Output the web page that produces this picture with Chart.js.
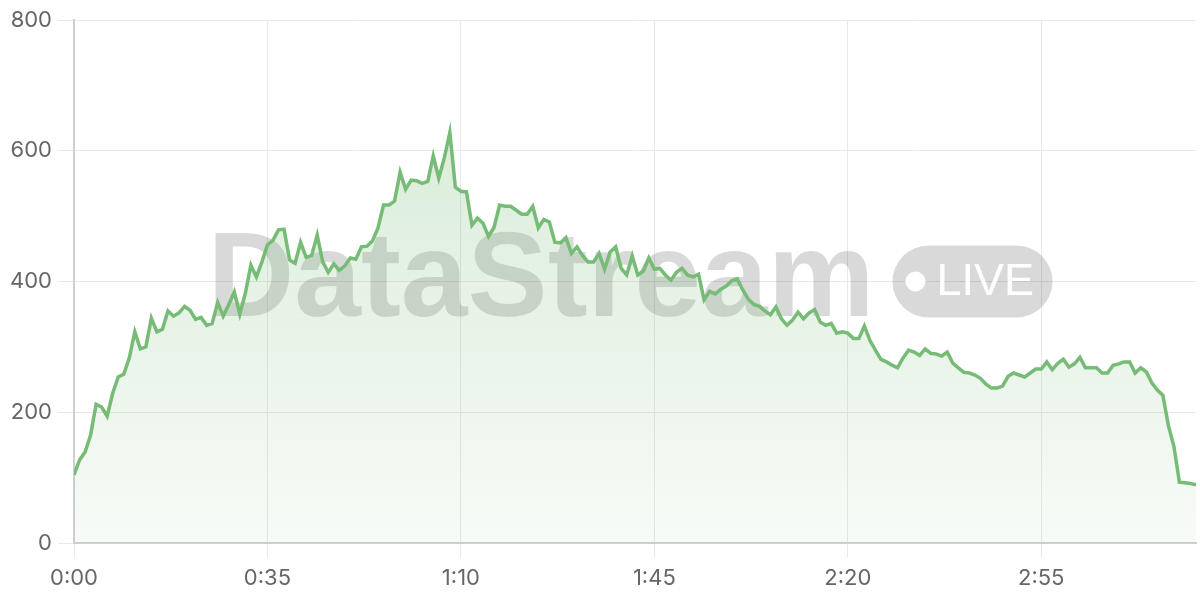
<!DOCTYPE html>
<html>
<head>
<meta charset="utf-8">
<script src="https://cdn.jsdelivr.net/npm/chart.js@4.4.1/dist/chart.umd.min.js"></script>
<style>
  html, body { margin: 0; padding: 0; background: #fff; }
  #wrap { width: 1200px; height: 600px; }
</style>
</head>
<body>
<div id="wrap"><canvas id="chart"></canvas></div>
<script>
// one reading per second, 0:00 .. 3:23
const VALUES = [
  104, 127, 139, 165, 212, 208, 194, 229, 254, 258, 283, 323, 297, 300, 344, 323, 327, 355, 347, 352, 362,
  356, 342, 345, 333, 336, 368, 347, 365, 384, 350, 382, 425, 407, 430, 456, 463, 479, 480, 433, 428, 460, 437, 440,
  471, 430, 414, 427, 417, 424, 436, 434, 453, 454, 462, 482, 517, 517, 523, 567, 541, 555, 554, 550, 553, 592, 558,
  589, 628, 544, 538, 537, 486, 497, 489, 469, 483, 517, 515, 515, 509, 503, 503, 515, 482, 495, 491, 460, 459, 467,
  443, 453, 440, 430, 430, 443, 419, 445, 453, 420, 410, 439, 410, 416, 436, 419, 420, 410, 402, 414, 420, 410,
  407, 411, 372, 385, 381, 388, 393, 401, 404, 387, 373, 365, 362, 355, 349, 361, 343, 333, 341, 353, 343, 352, 357,
  338, 333, 336, 321, 323, 321, 313, 313, 332, 310, 295, 281, 277, 272, 268, 283, 295, 292, 287, 297, 290, 289, 286,
  292, 275, 268, 261, 260, 257, 252, 243, 237, 237, 240, 255, 260, 257, 254, 260, 266, 266, 277, 265, 275, 281,
  269, 274, 284, 268, 268, 268, 260, 260, 272, 274, 277, 277, 260, 268, 262, 245, 234, 226, 180, 148, 93, 92, 91, 89
];
const SECONDS = VALUES.map((_, i) => i);
const X_TICKS = [0, 35, 70, 105, 140, 175];
const Y_TICKS = [0, 200, 400, 600, 800];
const WATERMARK_TEXT = 'DataStream';
const BADGE_TEXT = 'LIVE';

const LINE_COLOR = '#76bb76';
const GRID_COLOR = '#e8e8e8';
const AXIS_COLOR = '#cfcfcf';
const TICK_FONT = { family: "Inter, 'DejaVu Sans', sans-serif", size: 22 };

function fmtTime(v) {
  return Math.floor(v / 60) + ':' + String(v % 60).padStart(2, '0');
}

// big grey "DataStream (•LIVE)" mark centred in the plot, under the line
const watermark = {
  id: 'watermark',
  beforeDatasetsDraw(chart) {
    const { ctx, chartArea: a } = chart;
    ctx.save();
    ctx.font = 'bold 120px "Liberation Sans", Arial, sans-serif';
    const tw = ctx.measureText(WATERMARK_TEXT).width;
    const pillW = 160, pillH = 72, gap = 20;
    const x0 = (a.left + a.right) / 2 - (tw + gap + pillW) / 2;
    const cy = (a.top + a.bottom) / 2;
    ctx.fillStyle = 'rgba(0,0,0,0.15)';
    ctx.textBaseline = 'alphabetic';
    ctx.fillText(WATERMARK_TEXT, x0 - 4, cy + 34);

    const px = x0 + tw + gap - 6, py = cy - 36;
    ctx.beginPath();
    ctx.roundRect(px, py, pillW, pillH, pillH / 2);
    ctx.fill();
    ctx.fillStyle = '#fff';
    ctx.beginPath();
    ctx.arc(px + 23, cy, 10, 0, Math.PI * 2);
    ctx.fill();
    ctx.font = '45px "Liberation Sans", Arial, sans-serif';
    ctx.textBaseline = 'middle';
    ctx.fillText(BADGE_TEXT, px + 44, cy + 1);
    ctx.restore();
  }
};

new Chart(document.getElementById('chart').getContext('2d'), {
  type: 'line',
  data: {
    datasets: [{
      data: SECONDS.map((s, i) => ({ x: s, y: VALUES[i] })),
      borderColor: LINE_COLOR,
      borderWidth: 3.5,
      pointRadius: 0,
      tension: 0,
      fill: 'origin',
      backgroundColor: (c) => {
        const { ctx, chartArea } = c.chart;
        if (!chartArea) return 'rgba(118,187,118,0.12)';
        const g = ctx.createLinearGradient(0, chartArea.top, 0, chartArea.bottom);
        g.addColorStop(0, 'rgba(118,187,118,0.32)');
        g.addColorStop(1, 'rgba(118,187,118,0.06)');
        return g;
      }
    }]
  },
  options: {
    responsive: true,
    maintainAspectRatio: false,
    animation: false,
    layout: { padding: { top: 20, right: 4, left: 0, bottom: 0 } },
    plugins: { legend: { display: false }, tooltip: { enabled: false } },
    scales: {
      x: {
        type: 'linear',
        min: 0,
        max: SECONDS[SECONDS.length - 1],
        afterBuildTicks: (axis) => { axis.ticks = X_TICKS.map((v) => ({ value: v })); },
        afterFit: (axis) => { axis.height = 57; },
        ticks: { callback: (v) => fmtTime(v), color: '#666', font: TICK_FONT, padding: 8, maxRotation: 0 },
        grid: { color: GRID_COLOR, tickLength: 14 },
        border: { color: AXIS_COLOR, width: 2 }
      },
      y: {
        min: 0,
        max: 800,
        afterBuildTicks: (axis) => { axis.ticks = Y_TICKS.map((v) => ({ value: v })); },
        afterFit: (axis) => { axis.width = 74; },
        ticks: { color: '#666', font: TICK_FONT, padding: 6 },
        grid: { color: GRID_COLOR, tickLength: 16 },
        border: { color: AXIS_COLOR, width: 2 }
      }
    }
  },
  plugins: [watermark]
});
</script>
</body>
</html>
